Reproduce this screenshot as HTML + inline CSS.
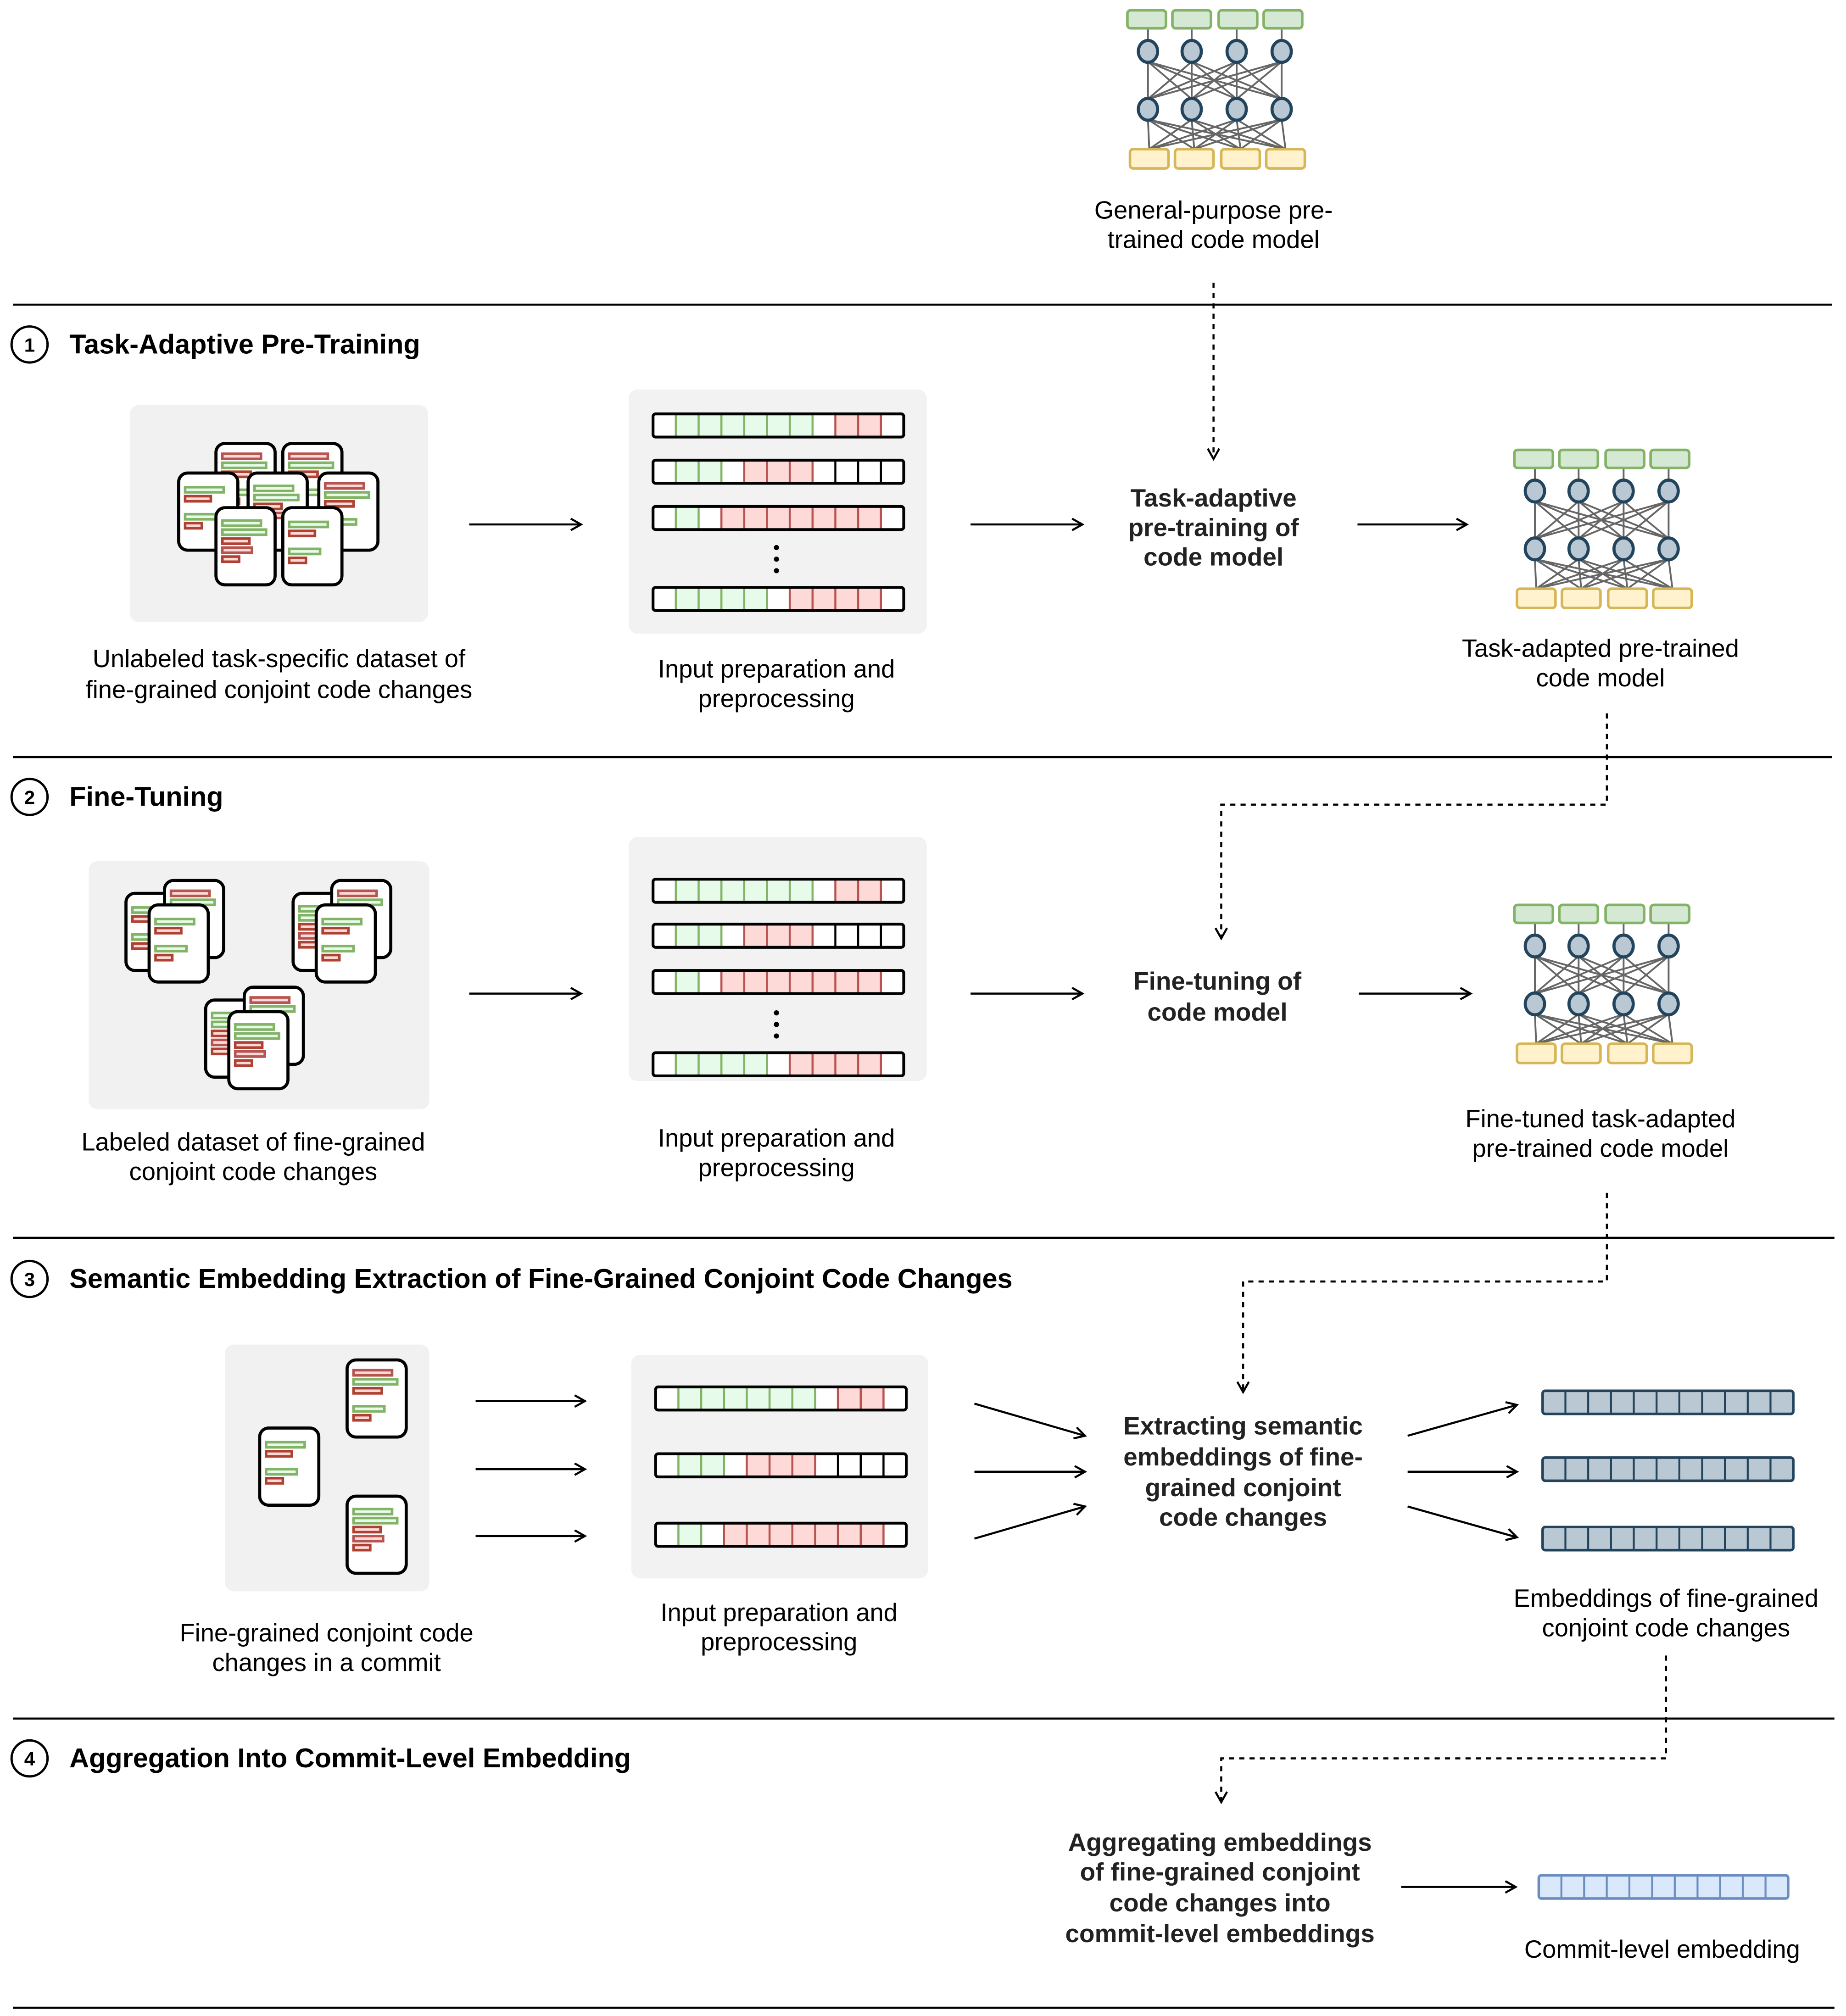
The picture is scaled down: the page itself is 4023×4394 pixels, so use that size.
<!DOCTYPE html>
<html><head><meta charset="utf-8"><style>
html,body{margin:0;padding:0;background:#fff;}
svg{display:block;}
text{font-family:"Liberation Sans",Arial,sans-serif;fill:#000;}
.lb{font-size:19.4px;text-anchor:middle;}
.bd{font-size:19.6px;font-weight:bold;text-anchor:middle;fill:#222;}
.hd{font-size:21.2px;font-weight:bold;}
</style></head><body>
<svg width="4023" height="4394" viewBox="0 0 1436 1568.4" xmlns="http://www.w3.org/2000/svg">
<defs>
<marker id="ah" markerWidth="12" markerHeight="12" refX="9" refY="5" orient="auto" markerUnits="userSpaceOnUse">
<path d="M1,0.5 L9,5 L1,9.5" fill="none" stroke="#000" stroke-width="1.6"/>
</marker>
<g id="net">
<g stroke="#666" stroke-width="1.4" fill="none">
<path d="M16,14V24M50,14V24M85,14V24M120,14V24"/>
<path d="M16,40L16,69M16,40L50,69M16,40L85,69M16,40L120,69M50,40L16,69M50,40L50,69M50,40L85,69M50,40L120,69M85,40L16,69M85,40L50,69M85,40L85,69M85,40L120,69M120,40L16,69M120,40L50,69M120,40L85,69M120,40L120,69"/>
<path d="M16,85L17,108M16,85L52,108M16,85L88,108M16,85L123,108M50,85L17,108M50,85L52,108M50,85L88,108M50,85L123,108M85,85L17,108M85,85L52,108M85,85L88,108M85,85L123,108M120,85L17,108M120,85L52,108M120,85L88,108M120,85L123,108"/>
</g>
<g fill="#d5e8d4" stroke="#82b366" stroke-width="2">
<rect x="0" y="0" width="30" height="14" rx="2.5"/><rect x="35" y="0" width="30" height="14" rx="2.5"/><rect x="71" y="0" width="30" height="14" rx="2.5"/><rect x="106" y="0" width="30" height="14" rx="2.5"/>
</g>
<g fill="#bac8d3" stroke="#23445d" stroke-width="2.4">
<ellipse cx="16" cy="32" rx="7.5" ry="8.5"/><ellipse cx="50" cy="32" rx="7.5" ry="8.5"/><ellipse cx="85" cy="32" rx="7.5" ry="8.5"/><ellipse cx="120" cy="32" rx="7.5" ry="8.5"/>
<ellipse cx="16" cy="77" rx="7.5" ry="8.5"/><ellipse cx="50" cy="77" rx="7.5" ry="8.5"/><ellipse cx="85" cy="77" rx="7.5" ry="8.5"/><ellipse cx="120" cy="77" rx="7.5" ry="8.5"/>
</g>
<g fill="#fff2cc" stroke="#d6b656" stroke-width="2">
<rect x="2" y="108" width="30" height="15" rx="2.5"/><rect x="37" y="108" width="30" height="15" rx="2.5"/><rect x="73" y="108" width="30" height="15" rx="2.5"/><rect x="108" y="108" width="30" height="15" rx="2.5"/>
</g>
</g>
<g id="rowA">
<rect x="0" y="0" width="195" height="18" rx="2" fill="#fff"/>
<rect x="17.73" y="0" width="106.36" height="18" fill="#e6fbe9"/>
<rect x="141.82" y="0" width="35.45" height="18" fill="#fdd9d7"/>
<path d="M17.73,0V18M35.45,0V18M53.18,0V18M70.91,0V18M88.64,0V18M106.36,0V18M124.09,0V18" stroke="#82b366" stroke-width="1.6"/>
<path d="M141.82,0V18M159.55,0V18M177.27,0V18" stroke="#b85450" stroke-width="1.6"/>
<rect x="0" y="0" width="195" height="18" rx="2" fill="none" stroke="#000" stroke-width="2.2"/>
</g>
<g id="rowB">
<rect x="0" y="0" width="195" height="18" rx="2" fill="#fff"/>
<rect x="17.73" y="0" width="35.45" height="18" fill="#e6fbe9"/>
<rect x="70.91" y="0" width="53.18" height="18" fill="#fdd9d7"/>
<path d="M17.73,0V18M35.45,0V18M53.18,0V18" stroke="#82b366" stroke-width="1.6"/>
<path d="M70.91,0V18M88.64,0V18M106.36,0V18M124.09,0V18" stroke="#b85450" stroke-width="1.6"/>
<path d="M141.82,0V18M159.55,0V18M177.27,0V18" stroke="#000" stroke-width="1.6"/>
<rect x="0" y="0" width="195" height="18" rx="2" fill="none" stroke="#000" stroke-width="2.2"/>
</g>
<g id="rowC">
<rect x="0" y="0" width="195" height="18" rx="2" fill="#fff"/>
<rect x="17.73" y="0" width="17.73" height="18" fill="#e6fbe9"/>
<rect x="53.18" y="0" width="124.09" height="18" fill="#fdd9d7"/>
<path d="M17.73,0V18M35.45,0V18" stroke="#82b366" stroke-width="1.6"/>
<path d="M53.18,0V18M70.91,0V18M88.64,0V18M106.36,0V18M124.09,0V18M141.82,0V18M159.55,0V18M177.27,0V18" stroke="#b85450" stroke-width="1.6"/>
<rect x="0" y="0" width="195" height="18" rx="2" fill="none" stroke="#000" stroke-width="2.2"/>
</g>
<g id="rowD">
<rect x="0" y="0" width="195" height="18" rx="2" fill="#fff"/>
<rect x="17.73" y="0" width="70.91" height="18" fill="#e6fbe9"/>
<rect x="106.36" y="0" width="70.91" height="18" fill="#fdd9d7"/>
<path d="M17.73,0V18M35.45,0V18M53.18,0V18M70.91,0V18M88.64,0V18" stroke="#82b366" stroke-width="1.6"/>
<path d="M106.36,0V18M124.09,0V18M141.82,0V18M159.55,0V18M177.27,0V18" stroke="#b85450" stroke-width="1.6"/>
<rect x="0" y="0" width="195" height="18" rx="2" fill="none" stroke="#000" stroke-width="2.2"/>
</g>
<g id="emb">
<rect x="0" y="0" width="195" height="18" rx="2" fill="#bac8d3" stroke="#23445d" stroke-width="2"/>
<path d="M17.73,0V18M35.45,0V18M53.18,0V18M70.91,0V18M88.64,0V18M106.36,0V18M124.09,0V18M141.82,0V18M159.55,0V18M177.27,0V18" stroke="#23445d" stroke-width="1.5"/>
</g>
<g id="embc">
<rect x="0" y="0" width="194" height="18" rx="2" fill="#dae8fc" stroke="#6c8ebf" stroke-width="2"/>
<path d="M17.6,0V18M35.3,0V18M52.9,0V18M70.5,0V18M88.2,0V18M105.8,0V18M123.5,0V18M141.1,0V18M158.7,0V18M176.4,0V18" stroke="#6c8ebf" stroke-width="1.5"/>
</g>
<g id="c1">
<rect x="0" y="0" width="46" height="60" rx="7" fill="#fff" stroke="#000" stroke-width="2.4"/>
<g stroke-width="2">
<rect x="5" y="11" width="30" height="4" fill="#e6fbe9" stroke="#82b366"/>
<rect x="5" y="18" width="20" height="4" fill="#fdd9d7" stroke="#ae4132"/>
<rect x="5" y="32" width="24" height="4" fill="#e6fbe9" stroke="#82b366"/>
<rect x="5" y="39" width="13" height="4" fill="#fdd9d7" stroke="#ae4132"/>
</g></g>
<g id="c2">
<rect x="0" y="0" width="46" height="60" rx="7" fill="#fff" stroke="#000" stroke-width="2.4"/>
<g stroke-width="2">
<rect x="5" y="8" width="30" height="4" fill="#fdd9d7" stroke="#b85450"/>
<rect x="5" y="15" width="34" height="4" fill="#e6fbe9" stroke="#82b366"/>
<rect x="5" y="22" width="22" height="4" fill="#fdd9d7" stroke="#ae4132"/>
<rect x="5" y="36" width="24" height="4" fill="#e6fbe9" stroke="#82b366"/>
<rect x="5" y="43" width="13" height="4" fill="#fdd9d7" stroke="#ae4132"/>
</g></g>
<g id="c3">
<rect x="0" y="0" width="46" height="60" rx="7" fill="#fff" stroke="#000" stroke-width="2.4"/>
<g stroke-width="2">
<rect x="5" y="10" width="30" height="4" fill="#e6fbe9" stroke="#82b366"/>
<rect x="5" y="17" width="34" height="4" fill="#e6fbe9" stroke="#82b366"/>
<rect x="5" y="24" width="21" height="4" fill="#fdd9d7" stroke="#ae4132"/>
<rect x="5" y="31" width="23" height="4" fill="#fdd9d7" stroke="#b85450"/>
<rect x="5" y="38" width="13" height="4" fill="#fdd9d7" stroke="#ae4132"/>
</g></g>
</defs>

<g stroke="#000" stroke-width="1.6">
<line x1="10" y1="237" x2="1425" y2="237"/>
<line x1="10" y1="589" x2="1425" y2="589"/>
<line x1="10" y1="963" x2="1427" y2="963"/>
<line x1="10" y1="1337" x2="1427" y2="1337"/>
<line x1="10" y1="1562" x2="1427" y2="1562"/>
</g>

<g fill="#fff" stroke="#000" stroke-width="1.8">
<circle cx="23" cy="268" r="14"/><circle cx="23" cy="620" r="14"/><circle cx="23" cy="995" r="14"/><circle cx="23" cy="1368" r="14"/>
</g>
<text x="23" y="273.5" text-anchor="middle" style="font-size:15px;font-weight:bold">1</text>
<text x="23" y="625.5" text-anchor="middle" style="font-size:15px;font-weight:bold">2</text>
<text x="23" y="1000.5" text-anchor="middle" style="font-size:15px;font-weight:bold">3</text>
<text x="23" y="1373.5" text-anchor="middle" style="font-size:15px;font-weight:bold">4</text>
<text class="hd" x="54" y="275">Task-Adaptive Pre-Training</text>
<text class="hd" x="54" y="627">Fine-Tuning</text>
<text class="hd" x="54" y="1002">Semantic Embedding Extraction of Fine-Grained Conjoint Code Changes</text>
<text class="hd" x="54" y="1375">Aggregation Into Commit-Level Embedding</text>

<use href="#net" x="877" y="8"/>
<text class="lb" x="944" y="170">General-purpose pre-</text>
<text class="lb" x="944" y="193">trained code model</text>

<g fill="none" stroke="#000" stroke-width="1.6" stroke-dasharray="4,4">
<path d="M944,220V357" marker-end="url(#ah)"/>
<path d="M1250,555V626H950V730" marker-end="url(#ah)"/>
<path d="M1250,928V997H967V1083" marker-end="url(#ah)"/>
<path d="M1296,1288V1368H950V1402" marker-end="url(#ah)"/>
</g>

<rect x="101" y="315" width="232" height="169" rx="7" fill="#f1f1f1"/>
<use href="#c2" x="168" y="345"/><use href="#c2" x="220" y="345"/>
<use href="#c1" x="139" y="368"/><use href="#c3" x="193" y="368"/><use href="#c2" x="248" y="368"/>
<use href="#c3" x="168" y="395"/><use href="#c1" x="220" y="395"/>
<text class="lb" x="217" y="519">Unlabeled task-specific dataset of</text>
<text class="lb" x="217" y="543">fine-grained conjoint code changes</text>

<rect x="489" y="303" width="232" height="190" rx="7" fill="#f2f2f2"/>
<use href="#rowA" x="508" y="322"/><use href="#rowB" x="508" y="358"/><use href="#rowC" x="508" y="394"/><use href="#rowD" x="508" y="457"/>
<g fill="#000"><circle cx="604" cy="426" r="2"/><circle cx="604" cy="435" r="2"/><circle cx="604" cy="444" r="2"/></g>
<text class="lb" x="604" y="527">Input preparation and</text>
<text class="lb" x="604" y="550">preprocessing</text>

<text class="bd" x="944" y="394">Task-adaptive</text>
<text class="bd" x="944" y="417">pre-training of</text>
<text class="bd" x="944" y="440">code model</text>

<use href="#net" x="1178" y="350"/>
<text class="lb" x="1245" y="511">Task-adapted pre-trained</text>
<text class="lb" x="1245" y="534">code model</text>

<g stroke="#000" stroke-width="1.6" marker-end="url(#ah)">
<line x1="365" y1="408" x2="452" y2="408"/>
<line x1="755" y1="408" x2="842" y2="408"/>
<line x1="1056" y1="408" x2="1141" y2="408"/>
<line x1="365" y1="773" x2="452" y2="773"/>
<line x1="755" y1="773" x2="842" y2="773"/>
<line x1="1057" y1="773" x2="1144" y2="773"/>
<line x1="370" y1="1090" x2="455" y2="1090"/>
<line x1="370" y1="1143" x2="455" y2="1143"/>
<line x1="370" y1="1195" x2="455" y2="1195"/>
<line x1="758" y1="1092" x2="844" y2="1117"/>
<line x1="758" y1="1145" x2="844" y2="1145"/>
<line x1="758" y1="1197" x2="844" y2="1172"/>
<line x1="1095" y1="1117" x2="1180" y2="1093"/>
<line x1="1095" y1="1145" x2="1180" y2="1145"/>
<line x1="1095" y1="1172" x2="1180" y2="1196"/>
<line x1="1090" y1="1468" x2="1179" y2="1468"/>
</g>

<rect x="69" y="670" width="265" height="193" rx="7" fill="#f1f1f1"/>
<use href="#c1" x="98" y="695"/><use href="#c2" x="128" y="685"/><use href="#c1" x="116" y="704"/>
<use href="#c3" x="228" y="695"/><use href="#c2" x="258" y="685"/><use href="#c1" x="246" y="704"/>
<use href="#c3" x="160" y="778"/><use href="#c2" x="190" y="768"/><use href="#c3" x="178" y="787"/>
<text class="lb" x="197" y="895">Labeled dataset of fine-grained</text>
<text class="lb" x="197" y="918">conjoint code changes</text>

<rect x="489" y="651" width="232" height="190" rx="7" fill="#f2f2f2"/>
<use href="#rowA" x="508" y="684"/><use href="#rowB" x="508" y="719"/><use href="#rowC" x="508" y="755"/><use href="#rowD" x="508" y="819"/>
<g fill="#000"><circle cx="604" cy="788" r="2"/><circle cx="604" cy="797" r="2"/><circle cx="604" cy="806" r="2"/></g>
<text class="lb" x="604" y="892">Input preparation and</text>
<text class="lb" x="604" y="915">preprocessing</text>

<text class="bd" x="947" y="770">Fine-tuning of</text>
<text class="bd" x="947" y="794">code model</text>

<use href="#net" x="1178" y="704"/>
<text class="lb" x="1245" y="877">Fine-tuned task-adapted</text>
<text class="lb" x="1245" y="900">pre-trained code model</text>

<rect x="175" y="1046" width="159" height="192" rx="7" fill="#f1f1f1"/>
<use href="#c2" x="270" y="1058"/><use href="#c1" x="202" y="1111"/><use href="#c3" x="270" y="1164"/>
<text class="lb" x="254" y="1277">Fine-grained conjoint code</text>
<text class="lb" x="254" y="1300">changes in a commit</text>

<rect x="491" y="1054" width="231" height="174" rx="7" fill="#f2f2f2"/>
<use href="#rowA" x="510" y="1079"/><use href="#rowB" x="510" y="1131"/><use href="#rowC" x="510" y="1185"/>
<text class="lb" x="606" y="1261">Input preparation and</text>
<text class="lb" x="606" y="1284">preprocessing</text>

<text class="bd" x="967" y="1116">Extracting semantic</text>
<text class="bd" x="967" y="1140">embeddings of fine-</text>
<text class="bd" x="967" y="1164">grained conjoint</text>
<text class="bd" x="967" y="1187">code changes</text>

<use href="#emb" x="1200" y="1082"/><use href="#emb" x="1200" y="1134"/><use href="#emb" x="1200" y="1188"/>
<text class="lb" x="1296" y="1250">Embeddings of fine-grained</text>
<text class="lb" x="1296" y="1273">conjoint code changes</text>

<text class="bd" x="949" y="1440">Aggregating embeddings</text>
<text class="bd" x="949" y="1463">of fine-grained conjoint</text>
<text class="bd" x="949" y="1487">code changes into</text>
<text class="bd" x="949" y="1511">commit-level embeddings</text>
<use href="#embc" x="1197" y="1459"/>
<text class="lb" x="1293" y="1523">Commit-level embedding</text>
</svg>
</body></html>
